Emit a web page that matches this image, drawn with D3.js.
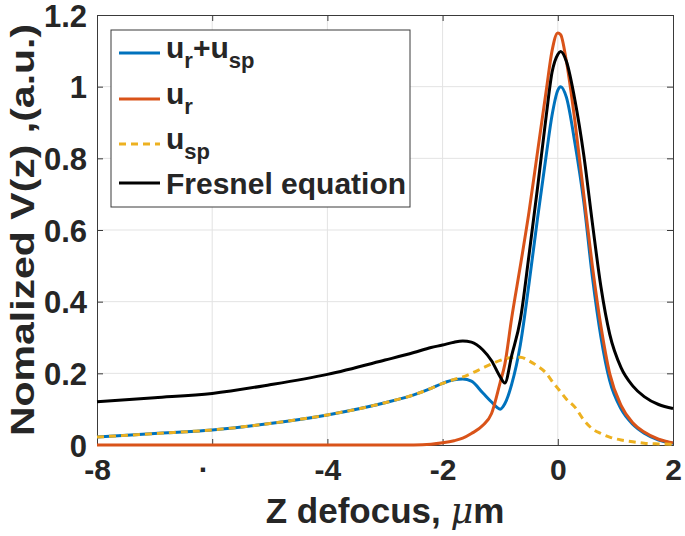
<!DOCTYPE html>
<html>
<head>
<meta charset="utf-8">
<script src="https://cdn.jsdelivr.net/npm/d3@7"></script>
<style>
  body { margin: 0; background: #fff; }
  svg text { font-family: "Liberation Sans", Arial, sans-serif; font-weight: bold; fill: #262626; }
</style>
</head>
<body>
<svg width="685" height="536"></svg>
<script>
// defocus positions (um)
var zValues = [-8, -7, -6, -5, -4, -3, -2.5, -2.2, -2, -1.8,
  -1.65, -1.5, -1.3, -1.15, -1, -0.92, -0.8, -0.65, -0.5, -0.35,
  -0.2, -0.1, 0, 0.05, 0.15, 0.3, 0.45, 0.6, 0.75, 0.9,
  1.1, 1.3, 1.5, 1.75, 2];

var urUsp = [0.022, 0.032, 0.042, 0.06, 0.084, 0.118, 0.14, 0.158, 0.172, 0.182,
  0.184, 0.178, 0.145, 0.12, 0.1, 0.115, 0.17, 0.28, 0.45, 0.635,
  0.81, 0.92, 0.99, 1.0, 0.97, 0.84, 0.68, 0.47, 0.3, 0.18,
  0.1, 0.058, 0.033, 0.014, 0.005];

var ur = [0, 0, 0, 0, 0, 0, 0, 0.002, 0.006, 0.012,
  0.019, 0.032, 0.055, 0.088, 0.175, 0.225, 0.355, 0.5, 0.65, 0.82,
  0.99, 1.1, 1.15, 1.145, 1.07, 0.9, 0.7, 0.5, 0.33, 0.2,
  0.11, 0.062, 0.036, 0.016, 0.006];

var usp = [0.022, 0.032, 0.042, 0.06, 0.084, 0.118, 0.14, 0.158, 0.172, 0.183,
  0.19, 0.2, 0.215, 0.226, 0.236, 0.24, 0.244, 0.245, 0.235, 0.22,
  0.2, 0.178, 0.158, 0.148, 0.128, 0.105, 0.07, 0.045, 0.032, 0.022,
  0.014, 0.009, 0.005, 0.003, 0.002];

var fresnel = [0.121, 0.132, 0.144, 0.168, 0.197, 0.237, 0.258, 0.272, 0.279, 0.287,
  0.29, 0.287, 0.265, 0.235, 0.19, 0.173, 0.25, 0.35, 0.53, 0.72,
  0.92, 1.04, 1.09, 1.098, 1.07, 0.96, 0.81, 0.62, 0.44, 0.31,
  0.215, 0.165, 0.135, 0.113, 0.102];

var xTicks = [-8, -6, -4, -2, 0, 2];
var xTickLabels = ["-8", "·", "-4", "-2", "0", "2"];
var yTicks = [0, 0.2, 0.4, 0.6, 0.8, 1, 1.2];
var yTickLabels = ["0", "0.2", "0.4", "0.6", "0.8", "1", "1.2"];

var series = [
  {name: "urUsp", values: urUsp, color: "#0072BD", dash: null,
   label: [["u", 0], ["r", 1], ["+u", 0], ["sp", 1]]},
  {name: "ur", values: ur, color: "#D95319", dash: null,
   label: [["u", 0], ["r", 1]]},
  {name: "usp", values: usp, color: "#EDB120", dash: "7,5",
   label: [["u", 0], ["sp", 1]]},
  {name: "fresnel", values: fresnel, color: "#000000", dash: null,
   label: [["Fresnel equation", 0]]}
];

var svg = d3.select("svg"),
    margin = {top: 15, right: 12, bottom: 91, left: 97},
    width = 685 - margin.left - margin.right,
    height = 536 - margin.top - margin.bottom,
    g = svg.append("g").attr("transform", "translate(" + margin.left + "," + margin.top + ")");

var x = d3.scaleLinear().domain([-8, 2]).range([0, width]),
    y = d3.scaleLinear().domain([0, 1.2]).range([height, 0]);

// grid
g.append("g").selectAll("line").data(xTicks.slice(1, -1)).enter().append("line")
  .attr("x1", function(d) { return x(d); }).attr("x2", function(d) { return x(d); })
  .attr("y1", 0).attr("y2", height)
  .attr("stroke", "#e3e3e3").attr("stroke-width", 1);
g.append("g").selectAll("line").data(yTicks.slice(1, -1)).enter().append("line")
  .attr("y1", function(d) { return y(d); }).attr("y2", function(d) { return y(d); })
  .attr("x1", 0).attr("x2", width)
  .attr("stroke", "#e3e3e3").attr("stroke-width", 1);

// axes
var xAxis = g.append("g")
  .attr("transform", "translate(0," + height + ")")
  .call(d3.axisBottom(x).tickValues(xTicks).tickSize(-6).tickPadding(14)
    .tickFormat(function(d, i) { return xTickLabels[i]; }));
xAxis.selectAll("text").attr("font-size", 30).attr("dy", "0.71em")
  .attr("dx", function(d, i) { return xTickLabels[i] === "·" ? -9 : 0; });

var yAxis = g.append("g")
  .call(d3.axisLeft(y).tickValues(yTicks).tickSize(-6).tickPadding(10)
    .tickFormat(function(d, i) { return yTickLabels[i]; }));
yAxis.selectAll("text").attr("font-size", 31).attr("dy", "0.36em");

g.append("g").call(d3.axisTop(x).tickValues(xTicks).tickSize(-6).tickFormat(""));
g.append("g").attr("transform", "translate(" + width + ",0)")
  .call(d3.axisRight(y).tickValues(yTicks).tickSize(-6).tickFormat(""));

g.selectAll(".domain").attr("stroke", "#3a3a3a");
g.selectAll(".tick line").attr("stroke", "#3a3a3a");
g.selectAll(".tick text").attr("fill", "#262626").attr("font-family", "Liberation Sans, Arial, sans-serif");

// curves
var line = d3.line()
  .curve(d3.curveMonotoneX)
  .x(function(d, i) { return x(zValues[i]); })
  .y(function(d) { return y(d); });

g.selectAll(".series").data(series).enter().append("path")
  .attr("class", "series")
  .attr("d", function(d) { return line(d.values); })
  .attr("fill", "none")
  .attr("stroke", function(d) { return d.color; })
  .attr("stroke-width", 3)
  .attr("stroke-dasharray", function(d) { return d.dash; });

// axis labels
svg.append("text")
  .attr("x", 385).attr("y", 523)
  .attr("text-anchor", "middle")
  .attr("font-size", 35)
  .html('Z defocus, <tspan font-style="italic" font-family="DejaVu Serif" font-weight="normal">μ</tspan>m');

svg.append("text")
  .attr("transform", "translate(34,230) rotate(-90) scale(1,0.82)")
  .attr("text-anchor", "middle")
  .attr("font-size", 41)
  .text("Nomalized V(z) ,(a.u.)");

// legend
var legend = svg.append("g");
legend.append("rect")
  .attr("x", 111).attr("y", 30).attr("width", 299).attr("height", 177)
  .attr("fill", "#fff").attr("stroke", "#3a3a3a").attr("stroke-width", 1);

var rowY = [53, 99, 144, 183];
var rows = legend.selectAll(".row").data(series).enter().append("g")
  .attr("transform", function(d, i) { return "translate(0," + rowY[i] + ")"; });

rows.append("line")
  .attr("x1", 119).attr("x2", 160)
  .attr("stroke", function(d) { return d.color; })
  .attr("stroke-width", 3)
  .attr("stroke-dasharray", function(d) { return d.dash; });

rows.append("text")
  .attr("x", 166)
  .attr("y", function(d) { return d.label.length > 1 ? 5 : 11; })
  .attr("font-size", 30)
  .each(function(d) {
    var t = d3.select(this);
    var shift = 0;
    d.label.forEach(function(p) {
      var dy = (p[1] ? 10 : 0) - shift;
      shift = p[1] ? 10 : 0;
      t.append("tspan")
        .attr("dy", dy)
        .attr("font-size", p[1] ? 22 : 30)
        .text(p[0]);
    });
  });
</script>
</body>
</html>
